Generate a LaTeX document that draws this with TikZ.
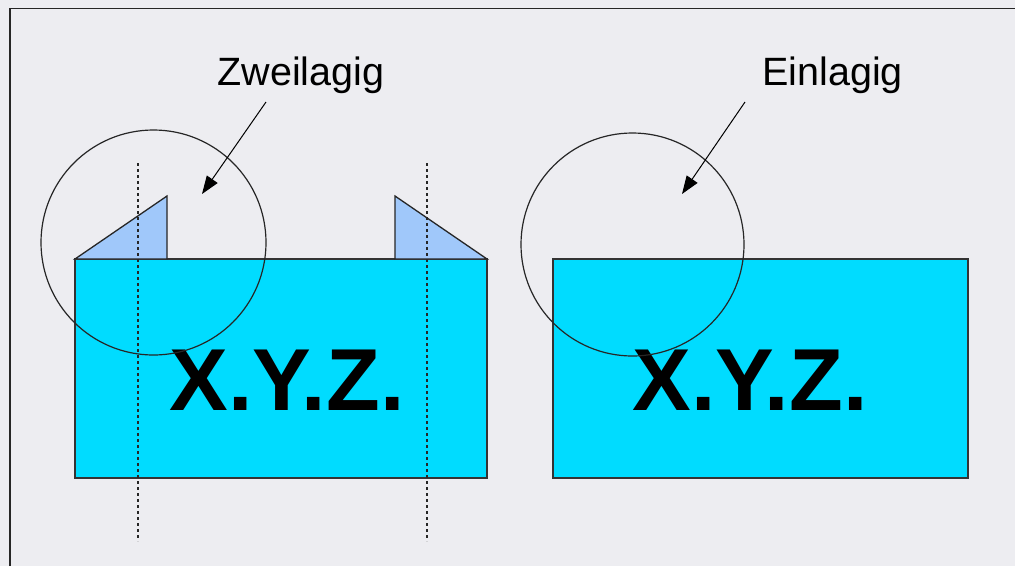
\documentclass[tikz,border=0pt]{standalone}
\usepackage{fontspec}
\setmainfont{Liberation Sans}
\usetikzlibrary{arrows.meta}
\definecolor{bg}{HTML}{EDEDF1}
\definecolor{cyanfill}{HTML}{00DCFF}
\definecolor{flap}{HTML}{A0C8FA}
\tikzset{
  card/.style={draw=black!80, fill=cyanfill, line width=1.3pt},
  flapshape/.style={draw=black!85, fill=flap, line width=1.3pt},
  foldline/.style={draw=black!85, line width=1.5pt, dash pattern=on 3pt off 3pt},
  ring/.style={draw=black!85, line width=1.2pt},
  pointer/.style={draw=black, line width=1pt, -{Triangle[length=18pt,width=13pt]}},
  label/.style={font=\fontsize{39.5}{42}\selectfont, inner sep=0pt, anchor=base},
  bigtext/.style={font=\fontsize{88}{92}\selectfont\bfseries, inner sep=0pt, anchor=base}
}
\begin{document}
\begin{tikzpicture}[x=1pt,y=-1pt]
\useasboundingbox (0,0) rectangle (1015,566);
\fill[bg] (0,0) rectangle (1015,566);
\draw[black!85, line width=1.5pt] (10,566) -- (10,8.5) -- (1015,8.5);
% cards
\draw[card] (75,259) rectangle (487,478);
\draw[card] (553,259) rectangle (968,478);
% flaps
\draw[flapshape] (75,259) -- (167,196) -- (167,259) -- cycle;
\draw[flapshape] (395,196) -- (487,259) -- (395,259) -- cycle;
% texts
\node[bigtext] (t1) at (287,410) {X.Y.Z.};
\node[bigtext] (t2) at (750,410) {X.Y.Z.};
% fold lines
\coordinate (f1a) at (138,163); \coordinate (f1b) at (138,541);
\coordinate (f2a) at (427,163); \coordinate (f2b) at (427,541);
\draw[foldline] (f1a) -- (f1b);
\draw[foldline] (f2a) -- (f2b);
% circles
\node[ring, circle, minimum size=225pt, inner sep=0pt] (c1) at (153.5,242.5) {};
\node[ring, circle, minimum size=223pt, inner sep=0pt] (c2) at (632.5,244.5) {};
% labels
\node[label] (l1) at (301,85) {Zweilagig};
\node[label] (l2) at (832.5,85) {Einlagig};
\coordinate (a1s) at (266,102); \coordinate (a1e) at (202,194);
\coordinate (a2s) at (745,102); \coordinate (a2e) at (682,194);
\draw[pointer] (a1s) -- (a1e);
\draw[pointer] (a2s) -- (a2e);
\end{tikzpicture}
\end{document}
